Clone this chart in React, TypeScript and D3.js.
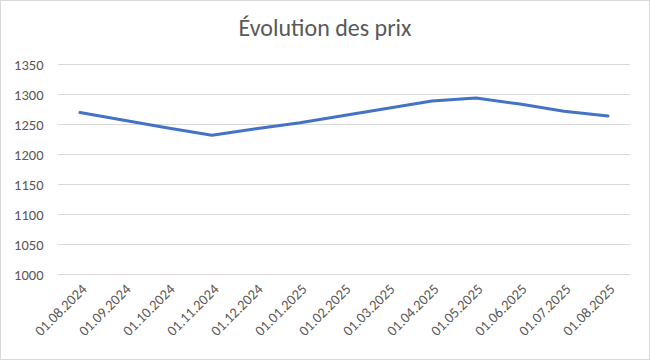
import React from "react";
import * as d3 from "d3";

const categories = [
  "01.08.2024", "01.09.2024", "01.10.2024", "01.11.2024", "01.12.2024",
  "01.01.2025", "01.02.2025", "01.03.2025", "01.04.2025", "01.05.2025",
  "01.06.2025", "01.07.2025", "01.08.2025",
];
const prices = [1270, 1257, 1244, 1232, 1243, 1253, 1265, 1277, 1289, 1294, 1284, 1272, 1264];
const yTicks = [1000, 1050, 1100, 1150, 1200, 1250, 1300, 1350];
const title = "Évolution des prix";

const W = 650;
const H = 360;
const margin = { left: 58, right: 20, top: 64.5, bottom: 85.5 };
const FONT = "Carlito, Calibri, 'Liberation Sans', Arial, sans-serif";

export default function App() {
  const x = d3
    .scaleBand<string>()
    .domain(categories)
    .range([margin.left, W - margin.right]);
  const y = d3
    .scaleLinear()
    .domain([1000, 1350])
    .range([H - margin.bottom, margin.top]);
  const line = d3
    .line<number>()
    .x((_, i) => (x(categories[i]) ?? 0) + x.bandwidth() / 2)
    .y((d) => y(d));

  return (
    <div style={{ position: "absolute", left: 0, top: 0 }}>
      <svg width={W} height={H} style={{ display: "block" }}>
        <rect x={0.5} y={0.5} width={W - 1} height={H - 1} fill="#fff" stroke="#d9d9d9" />
        <text
          x={W / 2}
          y={36}
          textAnchor="middle"
          fontFamily={FONT}
          fontSize={24}
          fill="#595959"
        >
          {title}
        </text>
        {yTicks.map((t) => (
          <g key={t}>
            <line
              x1={margin.left}
              x2={W - margin.right}
              y1={y(t)}
              y2={y(t)}
              stroke="#d9d9d9"
              strokeWidth={1}
            />
            <text
              x={43.5}
              y={y(t)}
              dy="0.35em"
              textAnchor="end"
              fontFamily={FONT}
              fontSize={14.5}
              fill="#595959"
            >
              {t}
            </text>
          </g>
        ))}
        {categories.map((c) => {
          const cx = (x(c) ?? 0) + x.bandwidth() / 2 + 4;
          const cy = H - margin.bottom + 12;
          return (
            <text
              key={c}
              transform={`translate(${cx},${cy}) rotate(-45)`}
              textAnchor="end"
              dy="0.35em"
              fontFamily={FONT}
              fontSize={14.5}
              fill="#595959"
            >
              {c}
            </text>
          );
        })}
        <path
          d={line(prices) ?? ""}
          fill="none"
          stroke="#4472c4"
          strokeWidth={3}
          strokeLinejoin="round"
          strokeLinecap="round"
        />
      </svg>
    </div>
  );
}
